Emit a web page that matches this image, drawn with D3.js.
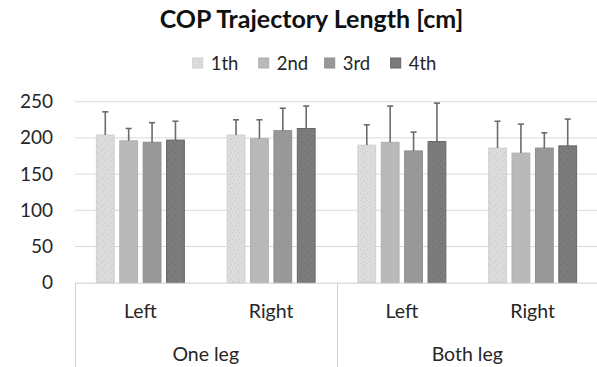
<!DOCTYPE html>
<html>
<head>
<meta charset="utf-8">
<script src="https://cdn.jsdelivr.net/npm/d3@7"></script>
<style>
  body { margin: 0; background: #fff; }
  svg { display: block; font-family: Lato, 'Open Sans', sans-serif; }
</style>
</head>
<body>
<svg id="chart"></svg>
<script>
const groups = ['One leg', 'Both leg']
const sides = ['Left', 'Right']
const series = ['1th', '2nd', '3rd', '4th']
// means per category: One leg Left, One leg Right, Both leg Left, Both leg Right
const values1th = [204, 204, 190, 186]
const values2nd = [196, 199, 194, 179]
const values3rd = [194, 210, 182, 186]
const values4th = [197, 213, 195, 189]
// upper error (sd)
const err1th = [32, 21, 28, 37]
const err2nd = [17, 26, 50, 40]
const err3rd = [27, 31, 26, 21]
const err4th = [26, 31, 53, 37]
const yTicks = [0, 50, 100, 150, 200, 250]

const width = 597
const height = 367
const margin = { top: 101.7, right: -1, bottom: 84.3, left: 75 }

const colors = ['#dcdcdc', '#b9b9b9', '#989898', '#7c7c7c']
const borders = ['#d0d0d0', '#b0b0b0', '#8e8e8e', '#666']

const allValues = [values1th, values2nd, values3rd, values4th]
const allErr = [err1th, err2nd, err3rd, err4th]

const cats = []
groups.forEach((g) => sides.forEach((s) => cats.push(g + '|' + s)))

const data = []
series.forEach((s, si) => {
  cats.forEach((c, ci) => {
    data.push({ series: s, si, cat: c, value: allValues[si][ci], err: allErr[si][ci] })
  })
})

const svg = d3.select('#chart').attr('width', width).attr('height', height)

// dotted textures for first and last series
const defs = svg.append('defs')
const dotPattern = (id, bg, dot) => {
  const p = defs.append('pattern').attr('id', id).attr('patternUnits', 'userSpaceOnUse')
    .attr('width', 7).attr('height', 7)
  p.append('rect').attr('width', 7).attr('height', 7).attr('fill', bg)
  ;[[1, 1], [5, 2], [3, 4], [0, 5], [6, 6]].forEach(([px, py]) => {
    p.append('rect').attr('x', px).attr('y', py).attr('width', 1).attr('height', 1).attr('fill', dot)
  })
}
dotPattern('tex0', colors[0], '#c8c8c8')
dotPattern('tex3', colors[3], '#6c6c6c')
const fillFor = (i) => (i === 0 ? 'url(#tex0)' : i === 3 ? 'url(#tex3)' : colors[i])

const x0 = d3.scaleBand().domain(cats).range([margin.left, width - margin.right])
const x1 = d3.scaleBand().domain(series).range([0, x0.bandwidth()]).paddingInner(0.24).paddingOuter(0.915)
const y = d3.scaleLinear().domain([0, 250]).range([height - margin.bottom, margin.top])

// grid
svg.append('g')
  .selectAll('line')
  .data(yTicks.slice(1))
  .join('line')
  .attr('x1', margin.left)
  .attr('x2', width - margin.right)
  .attr('y1', (d) => y(d))
  .attr('y2', (d) => y(d))
  .attr('stroke', '#d9d9d9')
  .attr('stroke-width', 1)

// y axis labels
svg.append('g')
  .attr('transform', `translate(${margin.left},0)`)
  .call(d3.axisLeft(y).tickValues(yTicks).tickSize(0).tickPadding(22))
  .call((g) => g.select('.domain').remove())
  .selectAll('text')
  .attr('font-family', 'Lato, sans-serif')
  .attr('font-size', 19)
  .attr('fill', '#262626')

// bars
svg.append('g')
  .selectAll('rect')
  .data(data)
  .join('rect')
  .attr('x', (d) => x0(d.cat) + x1(d.series))
  .attr('width', x1.bandwidth())
  .attr('y', (d) => y(d.value))
  .attr('height', (d) => y(0) - y(d.value))
  .attr('fill', (d) => fillFor(d.si))
  .attr('stroke', (d) => borders[d.si])
  .attr('stroke-width', 1)

// error bars (upper only)
const eb = svg.append('g').attr('stroke', '#6b6b6b').attr('stroke-width', 1.6)
eb.selectAll('line.v')
  .data(data)
  .join('line')
  .attr('class', 'v')
  .attr('x1', (d) => x0(d.cat) + x1(d.series) + x1.bandwidth() / 2)
  .attr('x2', (d) => x0(d.cat) + x1(d.series) + x1.bandwidth() / 2)
  .attr('y1', (d) => y(d.value))
  .attr('y2', (d) => y(d.value + d.err))
eb.selectAll('line.c')
  .data(data)
  .join('line')
  .attr('class', 'c')
  .attr('x1', (d) => x0(d.cat) + x1(d.series) + x1.bandwidth() / 2 - 3)
  .attr('x2', (d) => x0(d.cat) + x1(d.series) + x1.bandwidth() / 2 + 3)
  .attr('y1', (d) => y(d.value + d.err))
  .attr('y2', (d) => y(d.value + d.err))

// x axis base line
svg.append('line')
  .attr('x1', margin.left)
  .attr('x2', width - margin.right)
  .attr('y1', y(0) + 0.5)
  .attr('y2', y(0) + 0.5)
  .attr('stroke', '#cfcfcf')

// group separators
const groupEdges = [cats[0], cats[2]]
svg.append('g')
  .selectAll('line')
  .data(groupEdges)
  .join('line')
  .attr('x1', (d) => Math.round(x0(d)) + 0.5)
  .attr('x2', (d) => Math.round(x0(d)) + 0.5)
  .attr('y1', y(0))
  .attr('y2', height)
  .attr('stroke', '#cfcfcf')

// side labels
svg.append('g')
  .selectAll('text')
  .data(cats)
  .join('text')
  .attr('x', (d) => x0(d) + x0.bandwidth() / 2)
  .attr('y', 318)
  .attr('text-anchor', 'middle')
  .attr('font-size', 19.5)
  .attr('fill', '#262626')
  .text((d) => d.split('|')[1])

// group labels
svg.append('g')
  .selectAll('text')
  .data(groups)
  .join('text')
  .attr('x', (d) => x0(d + '|' + sides[0]) + x0.bandwidth())
  .attr('y', 361)
  .attr('text-anchor', 'middle')
  .attr('font-size', 19.5)
  .attr('fill', '#262626')
  .text((d) => d)

// title
svg.append('text')
  .attr('x', 311.5)
  .attr('y', 28)
  .attr('text-anchor', 'middle')
  .attr('font-size', 25)
  .attr('font-weight', 'bold')
  .attr('fill', '#111')
  .text('COP Trajectory Length [cm]')

// legend
const legend = svg.append('g')
  .selectAll('g')
  .data(series)
  .join('g')
  .attr('transform', (d, i) => `translate(${192.7 + i * 66},0)`)
legend.append('rect')
  .attr('y', 58)
  .attr('width', 10)
  .attr('height', 10)
  .attr('fill', (d, i) => fillFor(i))
  .attr('stroke', (d, i) => borders[i])
legend.append('text')
  .attr('x', 18)
  .attr('y', 70)
  .attr('font-size', 18.5)
  .attr('fill', '#262626')
  .text((d) => d)
</script>
</body>
</html>
